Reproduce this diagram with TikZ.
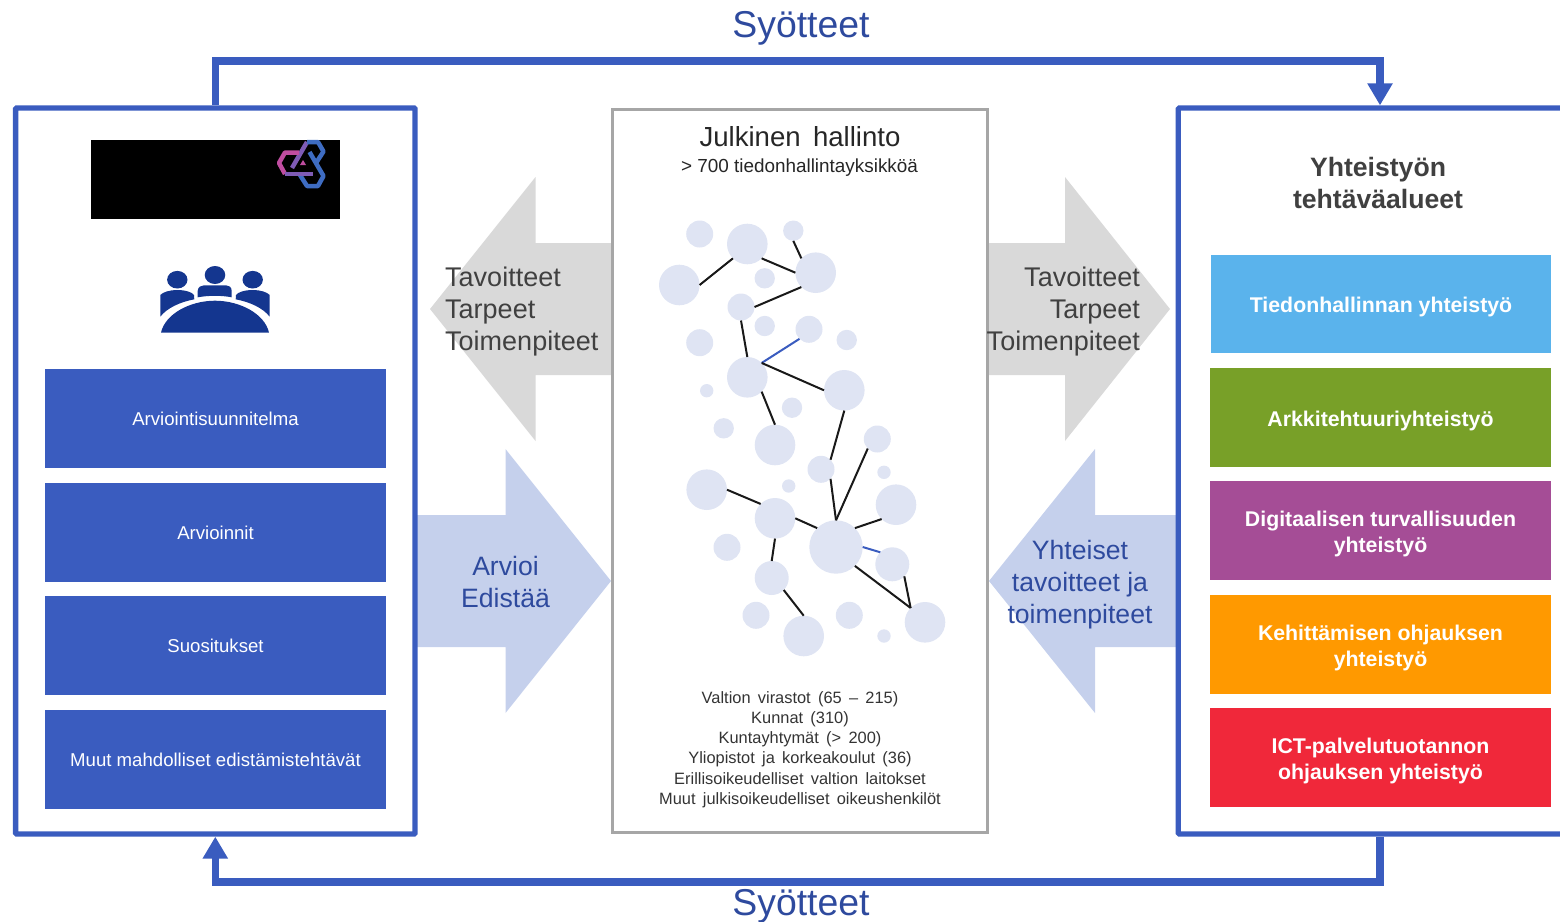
\documentclass[tikz,border=0pt]{standalone}
\usepackage{fontspec}
\setmainfont{Liberation Sans}
\newfontfamily\widefont[WordSpace=1.6]{Liberation Sans}
\usepackage{xcolor}
\usetikzlibrary{arrows.meta}
\newcommand{\tiledrop}{\rule{0pt}{22pt}}
\definecolor{framea}{HTML}{3A5CBF}
\definecolor{icona}{HTML}{14368F}
\definecolor{heada}{HTML}{2E4A9E}
\definecolor{dota}{HTML}{DFE4F3}
\definecolor{palea}{HTML}{C5D0EC}
\definecolor{greya}{HTML}{D9D9D9}
\definecolor{texta}{HTML}{404040}
\definecolor{logoa}{HTML}{C04DA0}
\definecolor{logob}{HTML}{7E5BB5}
\definecolor{logoc}{HTML}{3E6CC2}
\tikzset{x=1pt,y=-1pt,
 frame/.style={draw=framea,line width=5.3pt,fill=none,rounded corners=1pt,minimum height=726pt,inner sep=0pt},
 feedback/.style={draw=framea,line width=7.6pt,-{Triangle[width=24pt,length=22pt]}},
 heading/.style={text=heada,font=\fontsize{37.4}{44}\selectfont,inner sep=0pt},
 big/.style={font=\fontsize{26.6}{32}\selectfont,inner sep=0pt},
 needs/.style={text=texta,font=\fontsize{27}{32}\selectfont,inner sep=0pt},
 small/.style={text=black!80,font=\widefont\fontsize{16.4}{20.2}\selectfont,inner sep=0pt,align=center},
 leftbox/.style={fill=framea,text=white,minimum width=341pt,minimum height=99pt,inner sep=0pt,text height=16pt,text depth=1.5pt,font=\fontsize{18.6}{22}\selectfont},
 tile/.style={text=white,minimum width=341pt,minimum height=99pt,inner sep=0pt,align=center,font=\bfseries\fontsize{21.3}{26}\selectfont},
 dot/.style={circle,fill=dota,inner sep=0pt,outer sep=0pt},
 dotxl/.style={dot,minimum size=53.4pt},
 dotl/.style={dot,minimum size=40.6pt},
 dotk/.style={dot,minimum size=34pt},
 dotm/.style={dot,minimum size=27pt},
 dots/.style={dot,minimum size=20.4pt},
 dotxs/.style={dot,minimum size=13.4pt},
 link/.style={draw=black!90,line width=2pt},
 bluelink/.style={draw=framea,line width=2pt},
 hexa/.style={line width=4.5pt,line join=round},
}

\begin{document}
\begin{tikzpicture}
    \clip (0,0) rectangle (1560,921);
    % big arrows behind the frames
    \fill[greya] (430,309) -- (535.5,177) -- (535.5,243) -- (611,243) -- (611,375) -- (535.5,375) -- (535.5,441) -- cycle;
    \fill[greya] (1170,309) -- (1065,177) -- (1065,243) -- (987,243) -- (987,375) -- (1065,375) -- (1065,441) -- cycle;
    \fill[palea] (611,581) -- (505.5,449) -- (505.5,515) -- (417,515) -- (417,647) -- (505.5,647) -- (505.5,713) -- cycle;
    \fill[palea] (989,581) -- (1095,449) -- (1095,515) -- (1176,515) -- (1176,647) -- (1095,647) -- (1095,713) -- cycle;

    % frames
    \node[frame,minimum width=399.4pt] (leftframe) at (215.3,471) {};
    \node[frame,minimum width=403.4pt] (rightframe) at (1380,471) {};
    \node[draw=black!35,line width=3pt,minimum width=374.5pt,minimum height=722.8pt,inner sep=0pt] (midframe) at (799.8,471) {};
    \coordinate (topleft) at (leftframe.north |- 0,61);
    \coordinate (topright) at (rightframe.north |- 0,61);
    \coordinate (botright) at (rightframe.south |- 0,882);
    \coordinate (botleft) at (leftframe.south |- 0,882);
    \draw[feedback] (leftframe.north) -- (topleft) -- (topright) -- (rightframe.north);
    \draw[feedback] (rightframe.south) -- (botright) -- (botleft) -- (leftframe.south);
    \node[heading] (toplabel) at (801,28) {Syötteet};
    \node[heading] (botlabel) at (801,906) {Syötteet};

    % logo
    \node[fill=black,minimum width=249pt,minimum height=79pt,inner sep=0pt] (logo) at (215.5,179.5) {};
    \draw[hexa,color=logoc] (309.5,152) -- (323.5,176) -- (318,186) -- (307,186) -- (300,175);
    \draw[hexa,color=logob] (292,168) -- (307,142);
    \draw[hexa,color=logoc] (307,142) -- (318,142) -- (323.5,151.5) -- (316,163);
    \draw[hexa,color=logoa] (299,152.5) -- (285,152.5) -- (279,163) -- (285,174);
    \draw[hexa,color=logob] (285,174) -- (313,174);
    \fill[logoa] (303,160) -- (306,165) -- (300,165) -- cycle;

    % people round the table
    \fill[icona] (177.3,279.7) ellipse (10.2 and 8.8);
    \fill[icona] (215,275) ellipse (10.3 and 9);
    \fill[icona] (252.7,279.7) ellipse (10.2 and 8.8);
    \fill[icona] (160.3,316.7) -- (160.3,295) .. controls (163,292) and (170,290) .. (177,290) .. controls (185,290) and (192,292) .. (194,295) -- (194.3,299.3) .. controls (180,302) and (167,308) .. (160.3,316.7) -- cycle;
    \fill[icona] (269.7,316.7) -- (269.7,295) .. controls (267,292) and (260,290) .. (253,290) .. controls (245,290) and (238,292) .. (236,295) -- (235.7,299.3) .. controls (250,302) and (263,308) .. (269.7,316.7) -- cycle;
    \fill[icona] (197.7,297.3) -- (197.7,290.7) .. controls (198,287) and (201,285.3) .. (204,285.3) -- (226,285.3) .. controls (229,285.3) and (231.5,287) .. (231.7,290.7) -- (231.7,297.3) .. controls (221,295.3) and (209,295.3) .. (197.7,297.3) -- cycle;
    \fill[icona] (161,332.7) .. controls (165,314) and (190,300.7) .. (215,300.7) .. controls (240,300.7) and (265,314) .. (269,332.7) -- cycle;

    % left column
    \node[leftbox] (plan) at (215.5,418.5) {Arviointisuunnitelma};
    \node[leftbox] (evals) at (215.5,532.5) {Arvioinnit};
    \node[leftbox] (recs) at (215.5,645.5) {Suositukset};
    \node[leftbox] (other) at (215.5,759.5) {Muut mahdolliset edistämistehtävät};

    % right column
    \node[big,align=center,text=texta,font=\bfseries\fontsize{26.6}{32}\selectfont] (areas) at (1378,183) {Yhteistyön\\tehtäväalueet};
    \node[tile,fill={rgb,255:red,90;green,179;blue,236},minimum width=340pt,minimum height=98pt] (area1) at (1381,304) {\tiledrop Tiedonhallinnan yhteistyö};
    \node[tile,fill={rgb,255:red,120;green,160;blue,40}] (area2) at (1380.5,417.5) {\tiledrop Arkkitehtuuriyhteistyö};
    \node[tile,fill={rgb,255:red,165;green,77;blue,150}] (area3) at (1380.5,530.5) {\tiledrop Digitaalisen turvallisuuden\\yhteistyö};
    \node[tile,fill={rgb,255:red,255;green,153;blue,0}] (area4) at (1380.5,644.5) {\tiledrop Kehittämisen ohjauksen\\yhteistyö};
    \node[tile,fill={rgb,255:red,240;green,40;blue,58}] (area5) at (1380.5,757.5) {\tiledrop ICT-palvelutuotannon\\ohjauksen yhteistyö};

    % arrow texts
    \node[needs,align=left,anchor=west] (needsl) at (445,312) {Tavoitteet\\Tarpeet\\Toimenpiteet};
    \node[needs,align=right,anchor=east] (needsr) at (1140,312) {Tavoitteet\\Tarpeet\\Toimenpiteet};
    \node[big,align=center,text=heada] (assess) at (505.5,582) {Arvioi\\Edistää};
    \node[big,align=center,text=heada] (shared) at (1080,585) {Yhteiset\\tavoitteet ja\\toimenpiteet};

    % middle column
    \node[inner sep=0pt,text=black!85,font=\widefont\fontsize{27.6}{32}\selectfont] (public) at (800,137) {Julkinen hallinto};
    \node[inner sep=0pt,text=black!85,font=\fontsize{18.9}{22}\selectfont] (units) at (799.5,168) {> 700 tiedonhallintayksikköä};
    \node[small] (orgs) at (800,749.5) {Valtion virastot (65 – 215)\\Kunnat (310)\\Kuntayhtymät (> 200)\\Yliopistot ja korkeakoulut (36)\\Erillisoikeudelliset valtion laitokset\\Muut julkisoikeudelliset oikeushenkilöt};

    % network
    \node[dotm] (n1) at (699.7,234) {};
    \node[dotl] (n2) at (747.3,244) {};
    \node[dots] (n3) at (793.3,230.7) {};
    \node[dotl] (n4) at (815.7,272.7) {};
    \node[dotl] (n5) at (679.3,285) {};
    \node[dots] (n6) at (764.7,278.3) {};
    \node[dotm] (n7) at (741,307) {};
    \node[dots] (n8) at (764.7,326) {};
    \node[dotm] (n9) at (809,329.3) {};
    \node[dots] (n10) at (846.7,340) {};
    \node[dotm] (n11) at (699.7,342.7) {};
    \node[dotl] (n12) at (747.3,377.3) {};
    \node[dotl] (n13) at (844.3,390.3) {};
    \node[dotxs] (n14) at (706.7,390.7) {};
    \node[dots] (n15) at (792,407.7) {};
    \node[dots] (n16) at (723.7,428.3) {};
    \node[dotl] (n17) at (775,445) {};
    \node[dotm] (n18) at (877.3,439) {};
    \node[dotm] (n19) at (821,469.3) {};
    \node[dotxs] (n20) at (884,472.3) {};
    \node[dotxs] (n21) at (788.7,486) {};
    \node[dotl] (n22) at (706.7,489.7) {};
    \node[dotl] (n23) at (896,504.7) {};
    \node[dotl] (n24) at (775,518.3) {};
    \node[dotxl] (n25) at (836,547) {};
    \node[dotm] (n26) at (727,547.3) {};
    \node[dotk] (n27) at (892.3,564.3) {};
    \node[dotk] (n28) at (771.7,578) {};
    \node[dotm] (n29) at (756,615.3) {};
    \node[dotm] (n30) at (849.3,615.3) {};
    \node[dotl] (n31) at (803.7,636) {};
    \node[dotxs] (n32) at (884,636) {};
    \node[dotl] (n33) at (925,622.3) {};

    \draw[link] (n5.east) -- (n2.south west);
    \draw[link] (n2.south east) -- (n4.west);
    \draw[link] (n3.south) -- (n4.north west);
    \draw[link] (n4.south west) -- (n7.east);
    \draw[link] (n7.south) -- (n12.north);
    \draw[bluelink] (n9.south west) -- (n12.north east);
    \draw[link] (n12.north east) -- (n13.west);
    \draw[link] (n12.south east) -- (n17.north);
    \draw[link] (n13.south) -- (n19.north east);
    \draw[link] (n19.south east) -- (n25.north);
    \draw[link] (n18.south west) -- (n25.north);
    \draw[link] (n22.east) -- (n24.north west);
    \draw[link] (n24.east) -- (n25.north west);
    \draw[link] (n23.south west) -- (n25.north east);
    \draw[bluelink] (n25.east) -- (n27.north west);
    \draw[link] (n25.south east) -- (n33.north west);
    \draw[link] (n27.south east) -- (n33.north west);
    \draw[link] (n24.south) -- (n28.north);
    \draw[link] (n28.south east) -- (n31.north);
\end{tikzpicture}
\end{document}
